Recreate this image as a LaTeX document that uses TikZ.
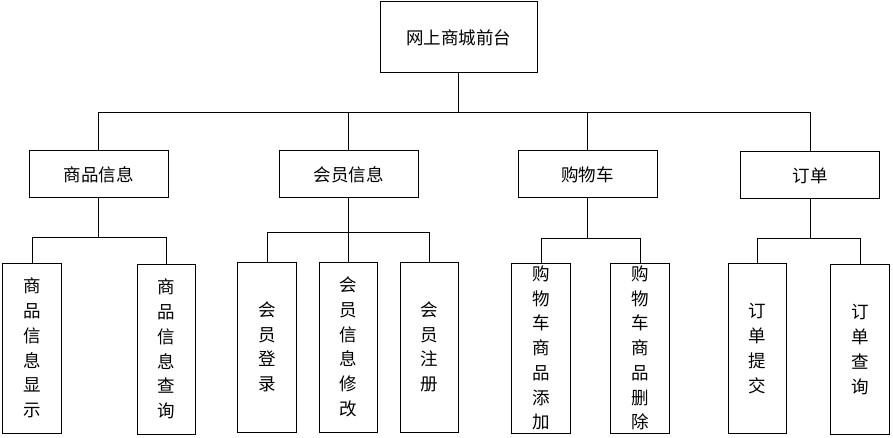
\documentclass[tikz,border=0pt]{standalone}
\usepackage{fontspec}
\setmainfont{Noto Sans CJK SC}
\usetikzlibrary{positioning}

\tikzset{
  topbox/.style={draw,line width=1pt,minimum width=157pt,minimum height=71pt,inner sep=0pt},
  catbox/.style={draw,line width=1pt,minimum width=139pt,minimum height=47pt,inner sep=0pt},
  leafbox/.style={draw,line width=1pt,minimum width=58.5pt,minimum height=170pt,inner sep=0pt,align=center},
  link/.style={line width=1pt}
}

\begin{document}
\begin{tikzpicture}[x=1pt,y=-1pt,font=\fontsize{17.5}{24.7}\selectfont]
\useasboundingbox (0,0) rectangle (893,438);

\node[topbox] (shop) at (458.5,37.5) {网上商城前台};

\node[catbox] (info)   at (98.5,174.5)  {商品信息};
\node[catbox] (member) at (348.5,174.5) {会员信息};
\node[catbox] (cart)   at (587.5,174.5) {购物车};
\node[catbox] (order)  at (810,175.5)   {订单};

\node[leafbox] (infoshow)  at (32,348)    {商\\品\\信\\息\\显\\示};
\node[leafbox] (infofind)  at (166.5,349) {商\\品\\信\\息\\查\\询};
\node[leafbox] (login)     at (267,347)   {会\\员\\登\\录};
\node[leafbox] (memedit)   at (348.5,347) {会\\员\\信\\息\\修\\改};
\node[leafbox] (register)  at (429.5,347) {会\\员\\注\\册};
\node[leafbox] (cartadd)   at (541,348)   {购\\物\\车\\商\\品\\添\\加};
\node[leafbox] (cartdel)   at (640,348)   {购\\物\\车\\商\\品\\删\\除};
\node[leafbox] (ordersend) at (757.5,348.5) {订\\单\\提\\交};
\node[leafbox] (orderfind) at (860,349.5) {订\\单\\查\\询};

% bus lines
\coordinate (bus) at (0,113);
\coordinate (busA) at (0,237);
\coordinate (busB) at (0,233);
\coordinate (busC) at (0,238);
\coordinate (busD) at (0,238);

\draw[link] (shop.south) -- (shop.south |- bus);
\draw[link] (info.north) -- (info.north |- bus) -| (order.north);
\draw[link] (member.north) -- (member.north |- bus);
\draw[link] (cart.north) -- (cart.north |- bus);

\draw[link] (info.south) -- (info.south |- busA);
\draw[link] (infoshow.north) -- (infoshow.north |- busA) -| (infofind.north);

\draw[link] (member.south) -- (memedit.north);
\draw[link] (login.north) -- (login.north |- busB) -| (register.north);

\draw[link] (cart.south) -- (cart.south |- busC);
\draw[link] (cartadd.north) -- (cartadd.north |- busC) -| (cartdel.north);

\draw[link] (order.south) -- (order.south |- busD);
\draw[link] (ordersend.north) -- (ordersend.north |- busD) -| (orderfind.north);
\end{tikzpicture}
\end{document}
